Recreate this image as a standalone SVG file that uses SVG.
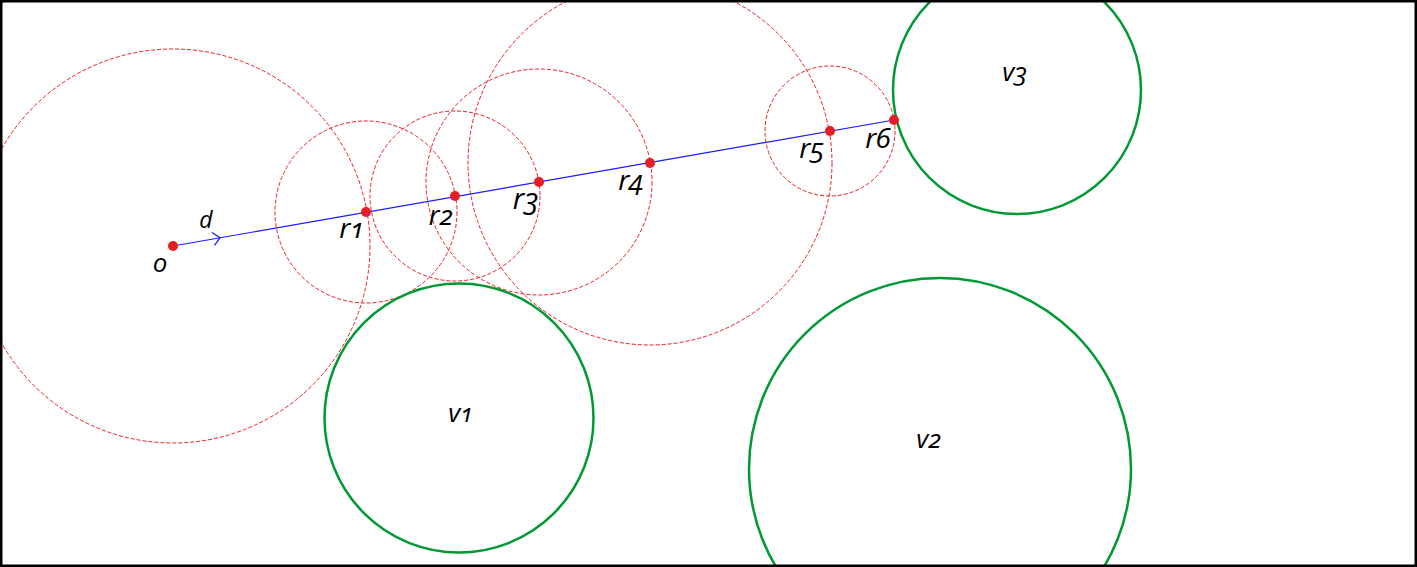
<svg xmlns="http://www.w3.org/2000/svg" width="1417" height="567" viewBox="0 0 1417 567">
<style>
.dash{fill:none;stroke:#ee1c24;stroke-width:1;stroke-dasharray:4,2}
.obs{fill:none;stroke:#009933;stroke-width:2.5}
.pt{fill:#e31e24}
.lbl{font-family:"Open Sans","Noto Sans",sans-serif;font-style:italic;font-size:28px;fill:#000;text-anchor:middle;font-variant-numeric:oldstyle-nums}
.v{font-size:26px}
</style>
<rect x="0" y="0" width="1417" height="567" fill="#fff"/>
<g id="spheres">
<circle class="dash" cx="173" cy="246" r="197"/>
<circle class="dash" cx="366" cy="212" r="91"/>
<circle class="dash" cx="455" cy="196" r="85"/>
<circle class="dash" cx="539" cy="182" r="113"/>
<circle class="dash" cx="650" cy="163" r="182"/>
<circle class="dash" cx="830" cy="131" r="65"/>
</g>
<g id="v1"><circle class="obs" cx="459" cy="418" r="134.5"/><text class="lbl v" x="461" y="422">v1</text></g>
<g id="v2"><circle class="obs" cx="940" cy="469" r="191"/><text class="lbl v" x="929" y="448">v2</text></g>
<g id="v3"><circle class="obs" cx="1017" cy="90" r="124"/><text class="lbl v" x="1015" y="81">v3</text></g>
<g id="connectors">
<line x1="173" y1="246" x2="894" y2="120" stroke="#1a1aff" stroke-width="1.2"/>
<polyline points="212,232.5 220,237.6 214.5,245.3" fill="none" stroke="#1a1aff" stroke-width="1.3"/>
</g>
<g id="o"><circle class="pt" cx="173" cy="246" r="5"/><text class="lbl" x="160" y="272" style="font-size:26px">o</text></g>
<g id="d"><text class="lbl" x="206" y="228" style="font-size:23px">d</text></g>
<g id="r1"><circle class="pt" cx="366" cy="212" r="5"/><text class="lbl" x="352" y="238">r1</text></g>
<g id="r2"><circle class="pt" cx="455" cy="196" r="5"/><text class="lbl" x="441" y="225" style="font-size:27px">r2</text></g>
<g id="r3"><circle class="pt" cx="539" cy="182" r="5"/><text class="lbl" x="526" y="209" style="font-size:29px">r3</text></g>
<g id="r4"><circle class="pt" cx="650" cy="163" r="5"/><text class="lbl" x="631" y="190">r4</text></g>
<g id="r5"><circle class="pt" cx="830" cy="131" r="5"/><text class="lbl" x="812" y="158">r5</text></g>
<g id="r6"><circle class="pt" cx="894" cy="120" r="5"/><text class="lbl" x="878" y="148">r6</text></g>
<rect x="1.25" y="1.25" width="1414.5" height="564.5" fill="none" stroke="#000" stroke-width="2.5"/>
</svg>
